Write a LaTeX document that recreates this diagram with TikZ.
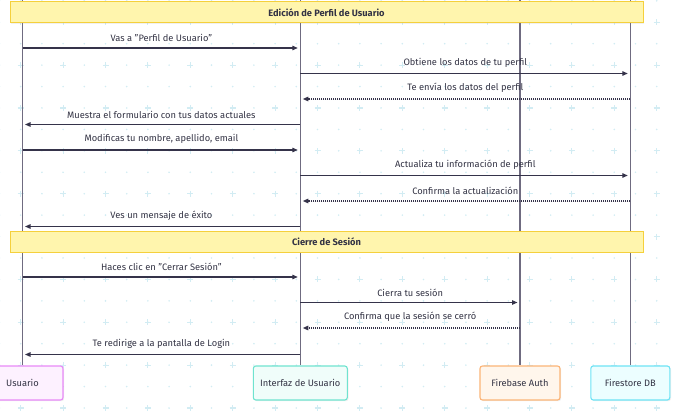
\documentclass[tikz,border=0pt]{standalone}
\usepackage{fontspec}
\setmainfont{Fira Sans}
\usepackage{tikz}
\usetikzlibrary{arrows.meta,shadows}
\usepackage{xcolor}
\definecolor{gridc}{HTML}{D2ECF3}
\definecolor{lifec}{HTML}{6F6B80}
\definecolor{msgc}{HTML}{35334A}
\definecolor{txtc}{HTML}{333344}
\definecolor{notefill}{HTML}{FFF5AD}
\definecolor{notedraw}{HTML}{F5D03C}
\definecolor{usrdraw}{HTML}{E889F7}
\definecolor{usrfill}{HTML}{FDF1FF}
\definecolor{uidraw}{HTML}{6FE3CF}
\definecolor{uifill}{HTML}{F0FDFA}
\definecolor{fbdraw}{HTML}{FBB477}
\definecolor{fbfill}{HTML}{FFF6EC}
\definecolor{dbdraw}{HTML}{6DE3F5}
\definecolor{dbfill}{HTML}{ECFEFF}

\begin{document}
\begin{tikzpicture}[x=1pt,y=-1pt]
        \tikzset{
        sd actor/.style={rectangle,draw,rounded corners=2.5pt,line width=1.1pt,minimum height=34pt,inner sep=0,font=\fontsize{9.3}{11}\selectfont,text=txtc,drop shadow={opacity=0.12,shadow xshift=1.2pt,shadow yshift=-1.2pt}},
        sd note/.style={rectangle,draw=notedraw,fill=notefill,line width=1pt,minimum width=633pt,minimum height=21pt,inner sep=0,font=\fontsize{9.3}{11}\selectfont\bfseries,text=txtc,drop shadow={opacity=0.12,shadow xshift=1.2pt,shadow yshift=-1.2pt}},
        sd life/.style={draw=lifec,line width=1.3pt},
        sd msg/.style={draw=msgc,line width=1.2pt,-{Triangle[length=5.5pt,width=4.5pt]},shorten >=2.5pt},
        sd reply/.style={sd msg,dash pattern=on 1pt off 1pt},
        sd lbl/.style={midway,above=5.5pt,inner sep=0,font=\fontsize{9.3}{11}\selectfont,text=txtc}
        }
        \useasboundingbox (0,0) rectangle (675,418);
        \foreach \i in {0,...,32}
          \foreach \j in {0,...,19}
            \fill[gridc] (-0.5+21.2*\i,408-21.43*\j) circle (0.9pt);
        \foreach \i in {0,...,15}
          \foreach \j in {0,...,9}
            \draw[gridc,line width=1.1pt] (20.7+42.4*\i,405-42.86*\j) -- ++(0,6) (17.7+42.4*\i,408-42.86*\j) -- ++(6,0);

        \coordinate (usrtop) at (22.5,0);
        \coordinate (uitop) at (300.3,0);
        \coordinate (fbtop) at (520,0);
        \coordinate (dbtop) at (630.3,0);
        \node[sd actor,draw=usrdraw,fill=usrfill,minimum width=81pt] (usr) at (22.5,383) {Usuario};
        \node[sd actor,draw=uidraw,fill=uifill,minimum width=94pt] (ui) at (300.3,383) {Interfaz de Usuario};
        \node[sd actor,draw=fbdraw,fill=fbfill,minimum width=80pt] (fb) at (520,383) {Firebase Auth};
        \node[sd actor,draw=dbdraw,fill=dbfill,minimum width=79pt] (db) at (630.3,383) {Firestore DB};

        \path[sd life]
        (usrtop) -- (usr.north)
        (uitop) -- (ui.north)
        (fbtop) -- (fb.north)
        (dbtop) -- (db.north);

        \foreach \r/\y in {1/48,2/73.5,3/99,4/124.5,5/150,6/175.5,7/201,8/226.5,9/277,10/302.5,11/328,12/354.5}{
          \coordinate (usr\r) at (22.5,\y);
          \coordinate (ui\r) at (300.3,\y);
          \coordinate (fb\r) at (520,\y);
          \coordinate (db\r) at (630.3,\y);
        }

        \node[sd note] (sec1) at (326.5,12.2) {Edición de Perfil de Usuario};
        \node[sd note] (sec2) at (326.5,241.6) {Cierre de Sesión};

        \path
        (usr1) edge[sd msg] node[sd lbl] {Vas a "Perfil de Usuario"} (ui1)
        (ui2) edge[sd msg] node[sd lbl] {Obtiene los datos de tu perfil} (db2)
        (db3) edge[sd reply] node[sd lbl] {Te envía los datos del perfil} (ui3)
        (ui4) edge[sd msg] node[sd lbl] {Muestra el formulario con tus datos actuales} (usr4)
        (usr5) edge[sd msg] node[sd lbl] {Modificas tu nombre, apellido, email} (ui5)
        (ui6) edge[sd msg] node[sd lbl] {Actualiza tu información de perfil} (db6)
        (db7) edge[sd reply] node[sd lbl] {Confirma la actualización} (ui7)
        (ui8) edge[sd msg] node[sd lbl] {Ves un mensaje de éxito} (usr8)
        (usr9) edge[sd msg] node[sd lbl] {Haces clic en "Cerrar Sesión"} (ui9)
        (ui10) edge[sd msg] node[sd lbl] {Cierra tu sesión} (fb10)
        (fb11) edge[sd reply] node[sd lbl] {Confirma que la sesión se cerró} (ui11)
        (ui12) edge[sd msg] node[sd lbl] {Te redirige a la pantalla de Login} (usr12)
        ;
    \end{tikzpicture}
\end{document}
